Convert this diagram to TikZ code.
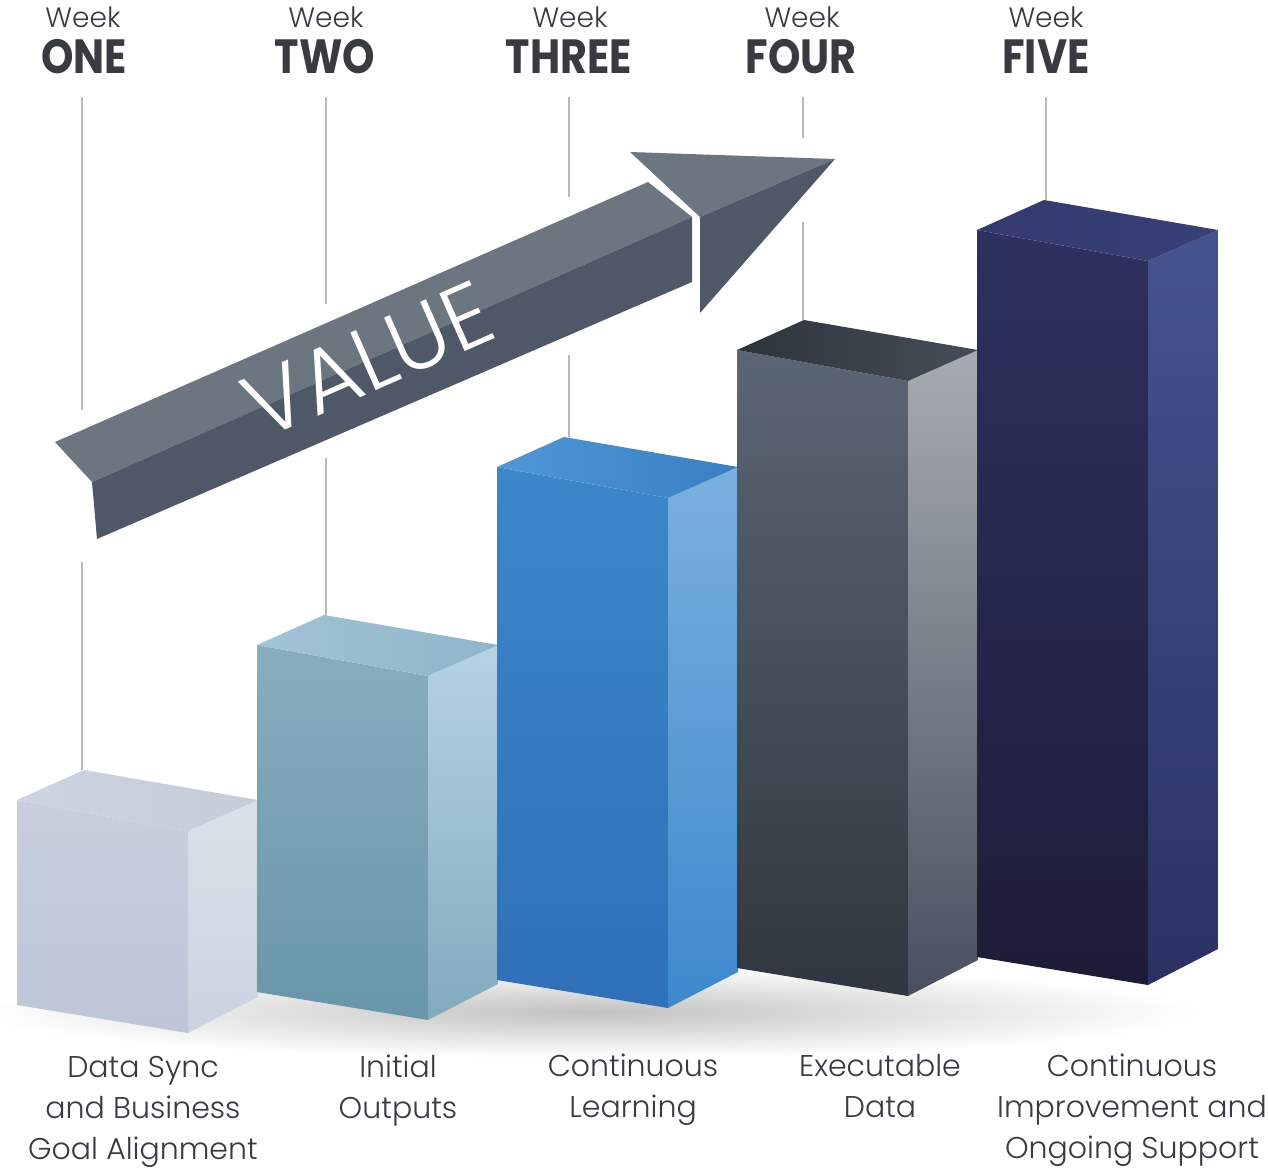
\documentclass[tikz,border=0pt]{standalone}
\usepackage{fontspec}
\setmainfont{Poppins}
\newfontfamily\headfont[FakeStretch=0.86]{Poppins}
\newfontfamily\lightfont[UprightFont=* Light]{Poppins}
\definecolor{txtdark}{HTML}{383B40}
\definecolor{guidegray}{HTML}{B8B8B8}
\definecolor{arrtopc}{HTML}{6B7680}
\definecolor{arrfrontc}{HTML}{4F5866}
\tikzset{
  guide/.style={draw=guidegray, line width=2.2pt},
  weekf/.style={font=\lightfont\fontsize{28}{30}\selectfont, text=txtdark, inner sep=0pt, anchor=base},
  numf/.style={font=\headfont\bfseries\fontsize{48}{50}\selectfont, text=txtdark, inner sep=0pt, anchor=base},
  labf/.style={font=\lightfont\fontsize{30}{41}\selectfont, text=txtdark, align=center, inner sep=0pt, anchor=north},
  arrtop/.style={fill=arrtopc},
  arrfront/.style={fill=arrfrontc},
  b1t/.style={left color={rgb,255:red,205;green,212;blue,224}, right color={rgb,255:red,197;green,204;blue,218}},
  b1f/.style={top color={rgb,255:red,201;green,207;blue,220}, bottom color={rgb,255:red,189;green,197;blue,215}},
  b1s/.style={top color={rgb,255:red,217;green,225;blue,234}, bottom color={rgb,255:red,203;green,211;blue,224}},
  b2t/.style={left color={rgb,255:red,162;green,195;blue,214}, right color={rgb,255:red,144;green,180;blue,200}},
  b2f/.style={top color={rgb,255:red,136;green,173;blue,191}, bottom color={rgb,255:red,104;green,150;blue,168}},
  b2s/.style={top color={rgb,255:red,181;green,211;blue,229}, bottom color={rgb,255:red,130;green,170;blue,189}},
  b3t/.style={left color={rgb,255:red,79;green,151;blue,214}, right color={rgb,255:red,58;green,127;blue,195}},
  b3f/.style={top color={rgb,255:red,59;green,135;blue,201}, bottom color={rgb,255:red,47;green,112;blue,184}},
  b3s/.style={top color={rgb,255:red,122;green,176;blue,224}, bottom color={rgb,255:red,62;green,136;blue,204}},
  b4t/.style={left color={rgb,255:red,46;green,52;blue,60}, right color={rgb,255:red,69;green,77;blue,88}},
  b4f/.style={top color={rgb,255:red,91;green,102;blue,116}, bottom color={rgb,255:red,48;green,54;blue,63}},
  b4s/.style={top color={rgb,255:red,167;green,172;blue,178}, bottom color={rgb,255:red,72;green,80;blue,96}},
  b5t/.style={left color={rgb,255:red,52;green,58;blue,110}, right color={rgb,255:red,56;green,64;blue,118}},
  b5f/.style={top color={rgb,255:red,46;green,49;blue,95}, bottom color={rgb,255:red,29;green,28;blue,56}},
  b5s/.style={top color={rgb,255:red,69;green,83;blue,144}, bottom color={rgb,255:red,43;green,49;blue,99}},
}
% bar: #1 front-left x, #2 front-left top y, #3 front-left bottom y, #4 style prefix
\newcommand\mybar[4]{%
  \shade[#4f] (#1,#2) -- ({#1+171},{#2+31}) -- ({#1+171},{#3+28}) -- (#1,#3) -- cycle;
  \shade[#4s] ({#1+171},{#2+31}) -- ({#1+241},#2) -- ({#1+241},{#3-8}) -- ({#1+171},{#3+28}) -- cycle;
  \shade[#4t] (#1,#2) -- ({#1+67},{#2-30}) -- ({#1+241},#2) -- ({#1+171},{#2+31}) -- cycle;
}
\begin{document}
\begin{tikzpicture}[x=1pt,y=-1pt]
\useasboundingbox (0,0) rectangle (1268,1172);
\fill[white] (0,0) rectangle (1268,1172);

% ground shadow
\shade[inner color=black!24, outer color=white] (590,1012) ellipse (610 and 46);

% week headings
\node[weekf] (wk1) at (83,28) {Week};
\node[weekf] (wk2) at (326,28) {Week};
\node[weekf] (wk3) at (570,28) {Week};
\node[weekf] (wk4) at (802,28) {Week};
\node[weekf] (wk5) at (1046,28) {Week};
\node[numf] (n1) at (84,74) {ONE};
\node[numf] (n2) at (325,74) {TWO};
\node[numf] (n3) at (569,74) {THREE};
\node[numf] (n4) at (801,74) {FOUR};
\node[numf] (n5) at (1046,74) {FIVE};

% guide lines (interrupted by the arrow)
\draw[guide] (82,97) -- (82,410);
\draw[guide] (82,562) -- (82,770);
\draw[guide] (326,97) -- (326,304);
\draw[guide] (326,458) -- (326,617);
\draw[guide] (569,97) -- (569,197);
\draw[guide] (569,355) -- (569,437);
\draw[guide] (803,97) -- (803,138);
\draw[guide] (803,222) -- (803,320);
\draw[guide] (1046,97) -- (1046,200);

% bars
\mybar{17}{800}{1005}{b1}
\mybar{257}{645}{992}{b2}
\mybar{497}{467}{980}{b3}
\mybar{737}{350}{968}{b4}
\mybar{977}{230}{957}{b5}

% value arrow
\fill[arrtop] (55,442) -- (648,182) -- (692,217) -- (92,482) -- cycle;
\fill[arrfront] (92,482) -- (692,217) -- (692,282) -- (97,539) -- cycle;
\fill[arrtop] (630,152) -- (835,159) -- (700,217) -- cycle;
\fill[arrfront] (700,217) -- (835,159) -- (700,313) -- cycle;
\node[text=white, rotate=23.7, inner sep=0pt, font=\lightfont\fontsize{90}{90}\selectfont] (value) at (368,360) {VALUE};

% bottom labels
\node[labf] (l1) at (143,1056) {Data Sync\\and Business\\Goal Alignment};
\node[labf] (l2) at (398,1055) {Initial\\Outputs};
\node[labf] (l3) at (633,1054) {Continuous\\Learning};
\node[labf] (l4) at (880,1054) {Executable\\Data};
\node[labf] (l5) at (1132,1054) {Continuous\\Improvement and\\Ongoing Support};
\end{tikzpicture}
\end{document}
